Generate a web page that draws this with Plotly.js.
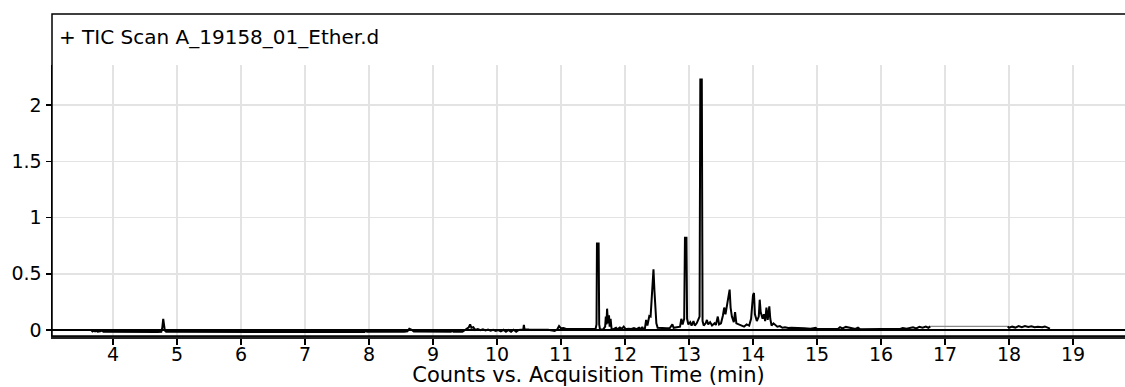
<!DOCTYPE html>
<html>
<head>
<meta charset="utf-8">
<script src="https://cdn.plot.ly/plotly-3.0.1.min.js"></script>
<style>
  html, body { margin: 0; padding: 0; background: #ffffff; }
  #chart { width: 1125px; height: 387px; }
</style>
</head>
<body>
<div id="chart"></div>
<script>
// ---- Data ----
const headerText = "+ TIC Scan A_19158_01_Ether.d";
const xAxisTitle = "Counts vs. Acquisition Time (min)";

const xTickVals = [4, 5, 6, 7, 8, 9, 10, 11, 12, 13, 14, 15, 16, 17, 18, 19];
const yTickVals = [0, 0.5, 1, 1.5, 2];
const yTickText = ["0", "0.5", "1", "1.5", "2"];

// Acquisition time (min)
const retentionTime = [
  3.66, 3.68, 3.70, 3.72, 3.74, 3.76, 3.80, 3.83, 3.85, 3.95,
  4.30, 4.70, 4.755, 4.77, 4.785, 4.795, 4.81, 4.83, 5.40, 6.20,
  7.00, 7.93, 7.95, 7.97, 8.55, 8.60, 8.63, 8.66, 8.70, 8.90,
  8.92, 8.94, 9.28, 9.30, 9.32, 9.46, 9.50, 9.54, 9.56, 9.58,
  9.60, 9.63, 9.66, 9.70, 9.74, 9.78, 9.82, 9.86, 9.90, 9.94,
  9.98, 10.02, 10.06, 10.10, 10.14, 10.18, 10.22, 10.26, 10.30, 10.34,
  10.38, 10.41, 10.42, 10.43, 10.50, 10.60, 10.70, 10.76, 10.80, 10.90,
  10.94, 10.97, 11.00, 11.04, 11.08, 11.20, 11.40, 11.42, 11.44, 11.54,
  11.555, 11.562, 11.588, 11.597, 11.61, 11.66, 11.69, 11.70, 11.71, 11.72,
  11.735, 11.75, 11.76, 11.775, 11.79, 11.82, 11.86, 11.88, 11.92, 11.95,
  11.98, 12.01, 12.05, 12.10, 12.14, 12.18, 12.22, 12.25, 12.27, 12.29,
  12.31, 12.33, 12.35, 12.38, 12.40, 12.42, 12.445, 12.46, 12.475, 12.49,
  12.51, 12.55, 12.60, 12.65, 12.70, 12.74, 12.76, 12.82, 12.86, 12.88,
  12.90, 12.925, 12.937, 12.96, 12.97, 12.99, 13.02, 13.04, 13.07, 13.09,
  13.12, 13.15, 13.165, 13.177, 13.2, 13.212, 13.23, 13.26, 13.28, 13.30,
  13.33, 13.36, 13.40, 13.42, 13.45, 13.47, 13.50, 13.53, 13.55, 13.57,
  13.60, 13.62, 13.635, 13.65, 13.67, 13.70, 13.72, 13.74, 13.78, 13.82,
  13.86, 13.90, 13.94, 13.97, 14.00, 14.015, 14.03, 14.06, 14.09, 14.105,
  14.12, 14.15, 14.17, 14.19, 14.21, 14.23, 14.255, 14.27, 14.29, 14.32,
  14.35, 14.38, 14.42, 14.46, 14.50, 14.55, 14.60, 14.70, 14.80, 14.90,
  14.98, 15.00, 15.20, 15.33, 15.36, 15.40, 15.45, 15.50, 15.55, 15.60,
  15.64, 15.67, 16.00, 16.30, 16.34, 16.40, 16.50, 16.55, 16.60, 16.65,
  16.70, 16.74, 16.77, null, 17.98, 18.00, 18.05, 18.10, 18.15, 18.20,
  18.25, 18.30, 18.35, 18.40, 18.45, 18.52, 18.56, 18.60, 18.64
];

// Counts (x10^7)
const counts = [
  0.0, -0.012, -0.006, -0.013, -0.008, -0.014, -0.012, -0.004, -0.015, -0.016,
  -0.017, -0.017, -0.015, 0.02, 0.10, 0.04, -0.005, -0.016, -0.017, -0.017,
  -0.017, -0.017, -0.004, -0.016, -0.016, -0.012, 0.012, 0.004, -0.014, -0.015,
  -0.01, -0.015, -0.015, -0.008, -0.015, -0.015, 0.0, 0.015, 0.025, 0.05,
  0.02, 0.025, 0.0, 0.008, -0.002, 0.006, -0.004, 0.004, -0.006, 0.002,
  -0.008, 0.0, -0.012, 0.002, -0.015, 0.0, -0.016, 0.002, -0.015, 0.0,
  0.002, 0.004, 0.045, 0.008, 0.004, 0.004, 0.0, 0.003, 0.003, -0.008,
  0.004, 0.035, 0.015, 0.018, 0.01, 0.01, 0.008, 0.014, 0.008, 0.01,
  0.05, 0.77, 0.77, 0.05, 0.004, 0.006, 0.03, 0.12, 0.05, 0.19,
  0.06, 0.13, 0.03, 0.10, 0.01, 0.008, 0.02, 0.006, 0.022, 0.01,
  0.03, 0.008, 0.012, 0.01, 0.018, 0.008, 0.02, 0.008, 0.028, 0.006,
  0.01, 0.09, 0.04, 0.125, 0.12, 0.37, 0.54, 0.35, 0.21, 0.06,
  0.02, 0.018, 0.02, 0.015, 0.018, 0.05, 0.02, 0.025, 0.03, 0.10,
  0.05, 0.10, 0.82, 0.82, 0.10, 0.05, 0.07, 0.04, 0.08, 0.04,
  0.06, 0.10, 0.12, 2.23, 2.23, 0.08, 0.04, 0.06, 0.09, 0.05,
  0.07, 0.04, 0.06, 0.045, 0.12, 0.05, 0.06, 0.13, 0.20, 0.14,
  0.24, 0.28, 0.36, 0.20, 0.12, 0.07, 0.16, 0.06, 0.05, 0.035,
  0.03, 0.05, 0.04, 0.10, 0.31, 0.33, 0.14, 0.08, 0.12, 0.27,
  0.16, 0.10, 0.14, 0.08, 0.20, 0.09, 0.21, 0.10, 0.04, 0.06,
  0.045, 0.03, 0.035, 0.02, 0.025, 0.018, 0.02, 0.015, 0.015, 0.012,
  0.02, 0.01, 0.01, 0.012, 0.025, 0.015, 0.028, 0.02, 0.015, 0.01,
  0.022, 0.008, 0.01, 0.01, 0.018, 0.012, 0.025, 0.015, 0.028, 0.02,
  0.03, 0.02, 0.033, null, 0.033, 0.02, 0.03, 0.022, 0.036, 0.025,
  0.035, 0.028, 0.034, 0.026, 0.03, 0.025, 0.032, 0.02, 0.012
];

// Straight interpolated segment drawn lighter (no scans in this window)
const gapTime = [16.77, 17.98];
const gapCounts = [0.033, 0.033];

// ---- Layout geometry ----
const plotTopPx = 65, plotBottomPx = 336, frameTopPx = 14, headerMidPx = 37;
const plotH = plotBottomPx - plotTopPx;

const traces = [
  {
    x: gapTime, y: gapCounts, type: "scatter", mode: "lines",
    line: { color: "#8a8a8a", width: 1.3 }, hoverinfo: "skip", showlegend: false
  },
  {
    x: retentionTime, y: counts, type: "scatter", mode: "lines",
    connectgaps: false,
    line: { color: "#000000", width: 2 }, showlegend: false
  }
];

const fontFam = "DejaVu Sans, Arial, sans-serif";

const layout = {
  width: 1125, height: 387,
  margin: { l: 52, r: 0, t: plotTopPx, b: 387 - plotBottomPx, pad: 0 },
  paper_bgcolor: "#ffffff", plot_bgcolor: "#ffffff",
  font: { family: fontFam, color: "#000000", size: 19 },
  showlegend: false,
  xaxis: {
    range: [3.047, 19.8125],
    tickmode: "array", tickvals: xTickVals,
    ticks: "outside", ticklen: 6, tickwidth: 1.5, tickcolor: "#000000",
    ticklabelstandoff: -7,
    showline: true, linecolor: "#222222", linewidth: 3,
    showgrid: true, gridcolor: "#e3e3e3", gridwidth: 1.5,
    zeroline: false,
    tickfont: { family: fontFam, size: 19, color: "#000000" },
    title: { text: xAxisTitle, font: { family: fontFam, size: 21, color: "#000000" }, standoff: 0 }
  },
  yaxis: {
    range: [-0.053, 2.358],
    tickmode: "array", tickvals: yTickVals, ticktext: yTickText,
    ticks: "outside", ticklen: 5, tickwidth: 1.5, tickcolor: "#000000",
    showline: true, linecolor: "#000000", linewidth: 1.5,
    showgrid: true, gridcolor: "#e3e3e3", gridwidth: 1.5,
    zeroline: true, zerolinecolor: "#000000", zerolinewidth: 1.5,
    tickfont: { family: fontFam, size: 19, color: "#000000" }
  },
  shapes: [
    {
      type: "rect", xref: "paper", yref: "paper",
      x0: 0, x1: 1.05, y0: 0, y1: (plotBottomPx - frameTopPx) / plotH,
      line: { color: "#000000", width: 1.5 }, fillcolor: "rgba(0,0,0,0)", layer: "above"
    }
  ],
  annotations: [
    {
      text: headerText, xref: "paper", yref: "paper",
      x: 5 / 1073, y: (plotBottomPx - headerMidPx) / plotH,
      xanchor: "left", yanchor: "middle", showarrow: false,
      font: { family: fontFam, size: 20, color: "#000000" }
    }
  ]
};

Plotly.newPlot("chart", traces, layout, { staticPlot: true, displayModeBar: false });
</script>
</body>
</html>
